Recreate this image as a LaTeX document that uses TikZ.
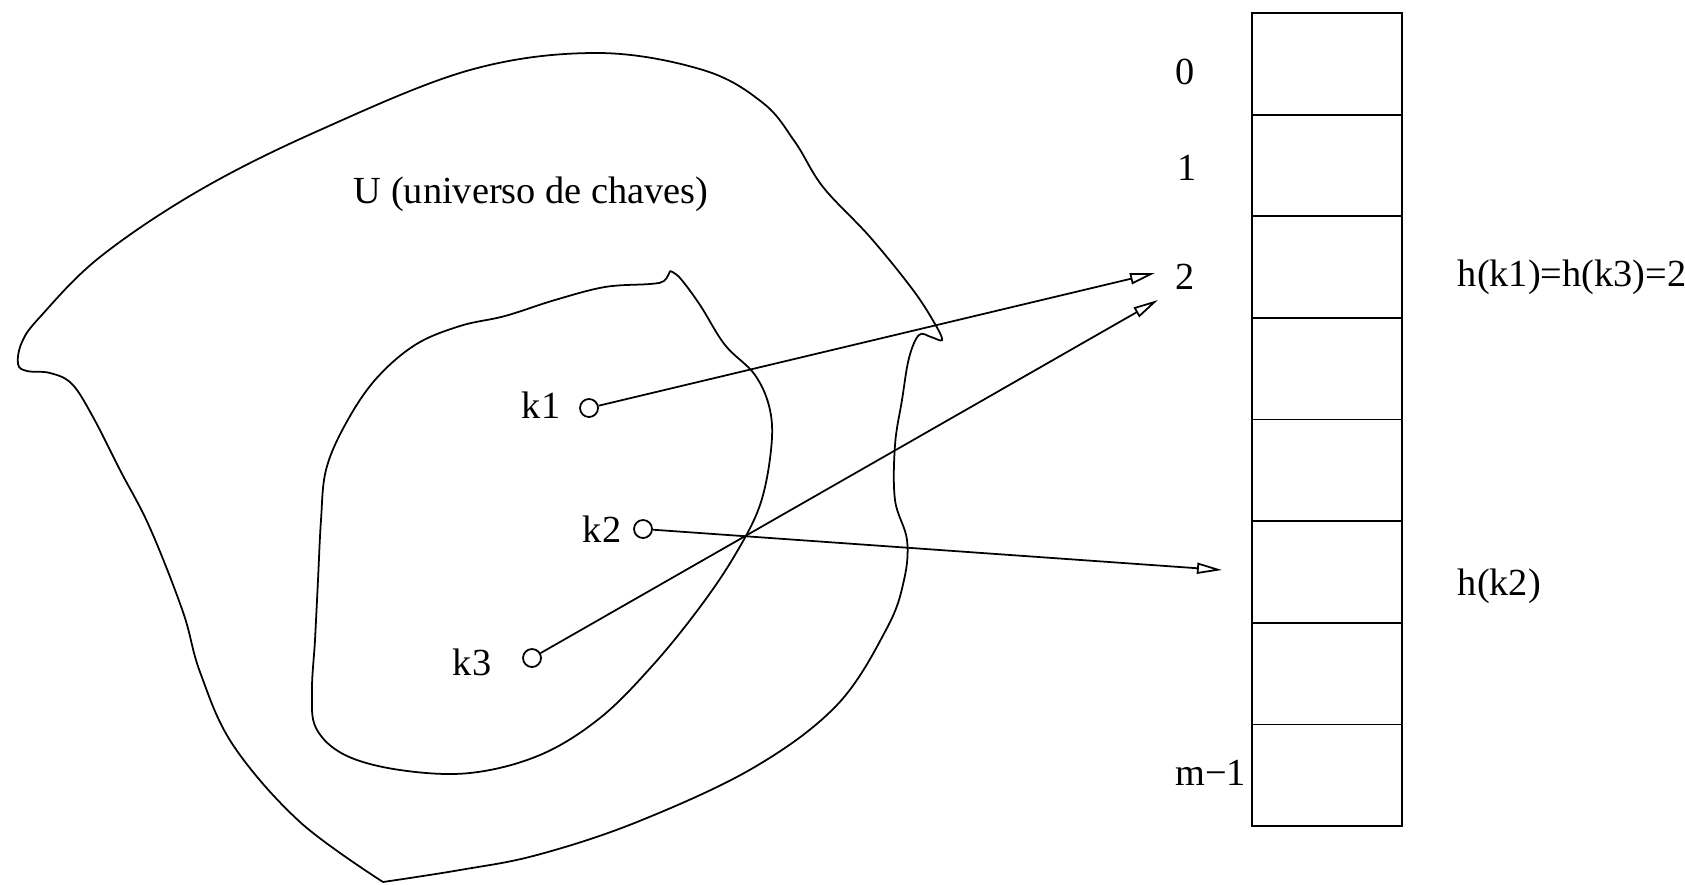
\documentclass[tikz,border=0pt]{standalone}
\usepackage{fontspec}
\setmainfont{Liberation Serif}
\usetikzlibrary{arrows.meta, positioning}
\tikzset{
  every picture/.style={font=\fontsize{10.9pt}{13pt}\selectfont, line width=0.5pt},
  key/.style={circle, draw, inner sep=0pt, minimum size=0.18cm},
  lbl/.style={inner sep=0pt},
  slot/.style={draw, minimum width=1.5cm, minimum height=1.016cm, inner sep=0pt, outer sep=0pt},
  arrow/.style={-{Triangle[open, length=2.5mm, width=1.1mm]}},
  blob/.style={smooth, tension=0.6},
}

\begin{document}
\begin{tikzpicture}[x=0.01cm, y=-0.01cm]
  \useasboundingbox (0,0) rectangle (1685,885);

  % universe of keys (outer) and keys in use (inner)
  \draw plot[blob] coordinates {(383,882) (300,822) (233,745) (200,672) (183,612) (150,528)
    (120,470) (93,417) (72,384) (50,373) (27,371) (18,364) (22,342) (40,317) (100,257)
    (200,190) (320,130) (470,70) (597,53) (703,70) (763,103) (795,142) (823,187) (870,237)
    (913,290) (935,324) (942,340) (931,337) (919,335) (909,358) (902,400) (895,445) (895,500)
    (907,540) (904,580) (887,628) (837,705) (753,768) (637,822) (537,855) (460,870) (383,882)};
  \draw plot[blob] coordinates {(670,271) (680,278) (700,305) (725,345) (755,375) (770,410)
    (771,450) (760,505) (735,555) (700,607) (653,665) (600,718) (540,755) (470,773) (400,770)
    (345,755) (316,728) (312,690) (315,640) (318,580) (321,520) (326,470) (345,425) (375,380)
    (415,345) (460,326) (505,316) (555,300) (605,287) (650,284) (664,281) (670,271)};

  \node[lbl, anchor=base west] (univ) at (353,204) {U (universo de chaves)};

  % keys
  \node[key] (k1) at (589,408) {};
  \node[key] (k2) at (643,529) {};
  \node[key] (k3) at (532,658) {};
  \node[lbl, left=0.18cm of k1, yshift=0.03cm] (k1l) {k1};
  \node[lbl, left=0.11cm of k2] (k2l) {k2};
  \node[lbl, left=0.30cm of k3, yshift=-0.04cm] (k3l) {k3};

  % table
  \node[slot] (s0) at (1327,63.8) {};
  \foreach \i [remember=\i as \j (initially 0)] in {1,...,7}
    \node[slot, below=0pt of s\j] (s\i) {};

  \node[lbl] (i0) at (1185,72) {0};
  \node[lbl] (i1) at (1187,168) {1};
  \node[lbl] (i2) at (1185,277) {2};
  \node[lbl, anchor=east] (im) at (1247,773) {m−1};

  \node[lbl, anchor=west] (h13) at (1457,277) {h(k1)=h(k3)=2};
  \node[lbl, anchor=west] (h2) at (1457,586) {h(k2)};

  \coordinate (e1) at (1155,273);
  \coordinate (e3) at (1158,300);
  \coordinate (e2) at (1222,570);
  \draw[arrow] (k1) -- (e1);
  \draw[arrow] (k3) -- (e3);
  \draw[arrow] (k2) -- (e2);
\end{tikzpicture}
\end{document}
